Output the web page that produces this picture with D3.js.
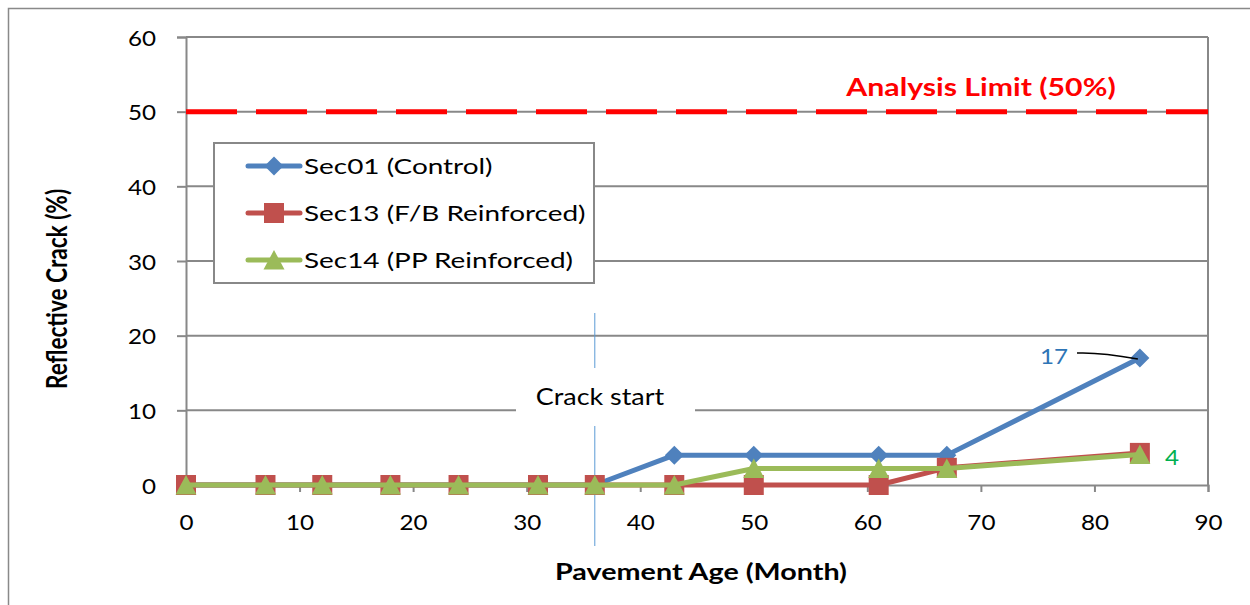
<!DOCTYPE html>
<html>
<head>
<meta charset="utf-8">
<script src="https://cdn.jsdelivr.net/npm/d3@7"></script>
<style>
  body { margin: 0; background: #fff; }
  text { font-family: Lato, 'Open Sans', sans-serif; }
</style>
</head>
<body>
<div id="chart"></div>
<script>
// chart data
var months = [0, 7, 12, 18, 24, 31, 36, 43, 50, 61, 67, 84];
var sec01 = [0, 0, 0, 0, 0, 0, 0, 4, 4, 4, 4, 17];
var sec13 = [0, 0, 0, 0, 0, 0, 0, 0, 0, 0, 2.3, 4.3];
var sec14 = [0, 0, 0, 0, 0, 0, 0, 0, 2.2, 2.2, 2.2, 4.1];
var seriesNames = ["Sec01 (Control)", "Sec13 (F/B Reinforced)", "Sec14 (PP Reinforced)"];
var xTicks = [0, 10, 20, 30, 40, 50, 60, 70, 80, 90];
var yTicks = [0, 10, 20, 30, 40, 50, 60];
var analysisLimit = 50;
var crackStart = 36;

var width = 1250, height = 605;
var margin = { top: 37, right: 42, bottom: 120, left: 186 };
var w = width - margin.left - margin.right,
    h = height - margin.top - margin.bottom;

// the original picture is stretched sideways, so text gets a horizontal scale
function addText(parent, x, y, k) {
    return parent.append("text")
        .attr("transform", "translate(" + x + "," + y + ") scale(" + k + ",1)");
}

// marker shapes
var markers = {
    diamond: "M0,-9.5L9.5,0L0,9.5L-9.5,0Z",
    square: "M-10,-10H10V10H-10Z",
    triangle: "M0,-10L10.5,9.5L-10.5,9.5Z"
};

var svg = d3.select("#chart").append("svg")
    .attr("width", width)
    .attr("height", height);

// outer chart border
svg.append("rect")
    .attr("x", 8.5).attr("y", 8.5)
    .attr("width", 1260).attr("height", 620)
    .attr("fill", "none")
    .attr("stroke", "#898989")
    .attr("stroke-width", 1.5);

var g = svg.append("g")
    .attr("transform", "translate(" + margin.left + "," + margin.top + ")");

var x = d3.scaleLinear().domain([0, 90]).range([0, w]);
var y = d3.scaleLinear().domain([0, 60]).range([h, 0]);

// gridlines
g.append("g")
    .selectAll("line")
    .data(yTicks.filter(function (d) { return d > 0; }))
    .enter().append("line")
    .attr("x1", 0).attr("x2", w)
    .attr("y1", function (d) { return y(d); })
    .attr("y2", function (d) { return y(d); })
    .attr("stroke", "#888")
    .attr("stroke-width", 2);

// right border of plot
g.append("line")
    .attr("x1", w).attr("x2", w)
    .attr("y1", 0).attr("y2", h)
    .attr("stroke", "#888").attr("stroke-width", 2);

// y axis
var yAxis = g.append("g")
    .call(d3.axisLeft(y).tickValues(yTicks).tickSize(9).tickFormat(""));
yAxis.select(".domain").attr("stroke", "#888").attr("stroke-width", 2);
yAxis.selectAll(".tick line").attr("stroke", "#888").attr("stroke-width", 2);
yAxis.selectAll(".tick").each(function (d) {
    addText(d3.select(this), -30, 8, 1.1)
        .attr("text-anchor", "end")
        .style("font-size", "22px")
        .attr("fill", "#000")
        .text(d);
});

// x axis
var xAxis = g.append("g")
    .attr("transform", "translate(0," + h + ")")
    .call(d3.axisBottom(x).tickValues(xTicks).tickSize(7).tickFormat(""));
xAxis.select(".domain").attr("stroke", "#888").attr("stroke-width", 2);
xAxis.selectAll(".tick line").attr("stroke", "#888").attr("stroke-width", 2);
xAxis.selectAll(".tick").each(function (d) {
    addText(d3.select(this), 0, 45, 1.1)
        .attr("text-anchor", "middle")
        .style("font-size", "22px")
        .attr("fill", "#000")
        .text(d);
});

// analysis limit
g.append("line")
    .attr("x1", 0).attr("x2", w)
    .attr("y1", y(analysisLimit)).attr("y2", y(analysisLimit))
    .attr("stroke", "#ff0000")
    .attr("stroke-width", 5)
    .attr("stroke-dasharray", "51,19");

addText(g, 981 - margin.left, 96 - margin.top, 1.26)
    .attr("text-anchor", "middle")
    .style("font-size", "24px")
    .style("font-weight", "bold")
    .attr("fill", "#ff0000")
    .text("Analysis Limit (" + analysisLimit + "%)");

// crack start marker
g.append("line")
    .attr("x1", x(crackStart)).attr("x2", x(crackStart))
    .attr("y1", 313 - margin.top).attr("y2", 546 - margin.top)
    .attr("stroke", "#5b9bd5")
    .attr("stroke-width", 1);

g.append("rect")
    .attr("x", 516 - margin.left).attr("y", 368 - margin.top)
    .attr("width", 179).attr("height", 58)
    .attr("fill", "#fff");

addText(g, 600 - margin.left, 405 - margin.top, 1.17)
    .attr("text-anchor", "middle")
    .style("font-size", "23px")
    .attr("fill", "#000")
    .text("Crack start");

// series
var series = [
    { name: seriesNames[0], values: sec01, color: "#4f81bd", marker: markers.diamond },
    { name: seriesNames[1], values: sec13, color: "#c0504d", marker: markers.square },
    { name: seriesNames[2], values: sec14, color: "#9bbb59", marker: markers.triangle }
];

var line = d3.line()
    .x(function (d) { return x(d[0]); })
    .y(function (d) { return y(d[1]); });

series.forEach(function (s) {
    var pts = months.map(function (m, i) { return [m, s.values[i]]; });
    var sg = g.append("g");
    sg.append("path")
        .datum(pts)
        .attr("d", line)
        .attr("fill", "none")
        .attr("stroke", s.color)
        .attr("stroke-width", 5)
        .attr("stroke-linejoin", "round");
    sg.selectAll("path.mk")
        .data(pts)
        .enter().append("path")
        .attr("class", "mk")
        .attr("transform", function (d) {
            return "translate(" + x(d[0]) + "," + y(d[1]) + ")";
        })
        .attr("d", s.marker)
        .attr("fill", s.color);
});

// data labels
var lastI = months.length - 1;
g.append("path")
    .attr("d", "M" + (1077 - margin.left) + "," + (353 - margin.top) +
        " Q" + (1100 - margin.left) + "," + (352 - margin.top) +
        " " + (x(months[lastI]) - 2) + "," + (y(sec01[lastI]) + 1))
    .attr("fill", "none")
    .attr("stroke", "#000")
    .attr("stroke-width", 1.5);

addText(g, 1068 - margin.left, 364 - margin.top, 1.1)
    .attr("text-anchor", "end")
    .style("font-size", "22px")
    .attr("fill", "#2e75b6")
    .text(Math.round(sec01[lastI]));

addText(g, 1165 - margin.left, 465 - margin.top, 1.1)
    .style("font-size", "22px")
    .attr("fill", "#00b050")
    .text(Math.round(sec14[lastI]));

// legend
var lg = svg.append("g").attr("transform", "translate(214,143)");
lg.append("rect")
    .attr("width", 380).attr("height", 140)
    .attr("fill", "#fff")
    .attr("stroke", "#888")
    .attr("stroke-width", 2);

series.forEach(function (s, i) {
    var ly = 23 + i * 47;
    lg.append("line")
        .attr("x1", 34).attr("x2", 86)
        .attr("y1", ly).attr("y2", ly)
        .attr("stroke", s.color)
        .attr("stroke-width", 5)
        .attr("stroke-linecap", "round");
    lg.append("path")
        .attr("transform", "translate(60," + ly + ")")
        .attr("d", s.marker)
        .attr("fill", s.color);
    addText(lg, 90, ly + 8, 1.27)
        .style("font-size", "22px")
        .attr("fill", "#000")
        .text(s.name);
});

// axis titles
addText(svg, 701, 580, 1.27)
    .attr("text-anchor", "middle")
    .style("font-size", "22.6px")
    .style("font-weight", "bold")
    .attr("fill", "#000")
    .text("Pavement Age (Month)");

svg.append("text")
    .attr("transform", "translate(67,289) rotate(-90) scale(1,1.25)")
    .attr("text-anchor", "middle")
    .style("font-size", "22.6px")
    .style("font-weight", "bold")
    .attr("fill", "#000")
    .text("Reflective Crack (%)");
</script>
</body>
</html>
